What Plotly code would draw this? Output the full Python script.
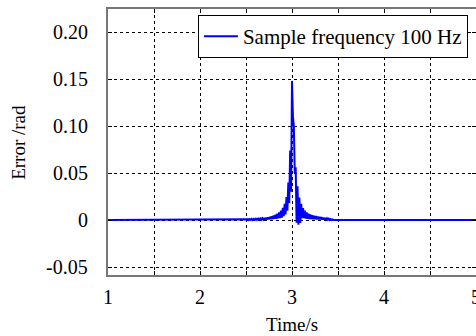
import plotly.graph_objects as go

# Time samples (s) around the error spike, sampled at 100 Hz; outside this window the error is 0
time_s = [1.00,
    2.50, 2.51, 2.52, 2.53, 2.54, 2.55, 2.56, 2.57, 2.58, 2.59,
    2.60, 2.61, 2.62, 2.63, 2.64, 2.65, 2.66, 2.67, 2.68, 2.69,
    2.70, 2.71, 2.72, 2.73, 2.74, 2.75, 2.76, 2.77, 2.78, 2.79,
    2.80, 2.81, 2.82, 2.83, 2.84, 2.85, 2.86, 2.87, 2.88, 2.89,
    2.90, 2.91, 2.92, 2.93, 2.94, 2.95, 2.96, 2.97, 2.98, 2.99,
    3.00, 3.01, 3.02, 3.03, 3.04, 3.05, 3.06, 3.07, 3.08, 3.09,
    3.10, 3.11, 3.12, 3.13, 3.14, 3.15, 3.16, 3.17, 3.18, 3.19,
    3.20, 3.21, 3.22, 3.23, 3.24, 3.25, 3.26, 3.27, 3.28, 3.29,
    3.30, 3.31, 3.32, 3.33, 3.34, 3.35, 3.36, 3.37, 3.38, 3.39,
    3.40, 3.41, 3.42, 3.43, 3.44, 3.45,
    5.00]

# Error (rad), oscillating sample to sample between the envelope and a lower value
error_rad = [0.0,
    0.0008, 0.0000, 0.0009, 0.0000, 0.0010, 0.0001, 0.0011, 0.0001, 0.0012, 0.0002,
    0.0013, 0.0002, 0.0014, 0.0003, 0.0015, 0.0003, 0.0017, 0.0004, 0.0019, 0.0004,
    0.0022, 0.0005, 0.0025, 0.0006, 0.0029, 0.0007, 0.0034, 0.0008, 0.0040, 0.0010,
    0.0047, 0.0012, 0.0056, 0.0014, 0.0067, 0.0017, 0.0081, 0.0021, 0.0101, 0.0026,
    0.0130, 0.0040, 0.0172, 0.0060, 0.0245, 0.0100, 0.0400, 0.0180, 0.0740, 0.0300,
    0.1480, 0.1100, 0.1000, 0.0500, 0.0560, -0.0030, 0.0360, -0.0050, 0.0240, -0.0030,
    0.0172, 0.0020, 0.0128, 0.0020, 0.0100, 0.0015, 0.0081, 0.0012, 0.0068, 0.0010,
    0.0058, 0.0009, 0.0051, 0.0008, 0.0046, 0.0008, 0.0042, 0.0007, 0.0038, 0.0006,
    0.0034, 0.0006, 0.0030, 0.0005, 0.0026, 0.0004, 0.0022, 0.0003, 0.0018, 0.0002,
    0.0014, 0.0001, 0.0010, 0.0000, 0.0006, 0.0000,
    0.0]

y_ticks = [-0.05, 0, 0.05, 0.10, 0.15, 0.20]
y_tick_text = ["-0.05", "0", "0.05", "0.10", "0.15", "0.20"]
x_ticks = [1, 2, 3, 4, 5]
x_tick_text = ["1", "2", "3", "4", "5"]

FONT = "Liberation Serif"

fig = go.Figure()
fig.add_trace(go.Scatter(
    x=time_s, y=error_rad, mode="lines",
    line=dict(color="#0000ff", width=2.0, simplify=False),
    name="Sample frequency 100 Hz",
))

grid = dict(showgrid=True, gridcolor="black", gridwidth=1, griddash="dot")

annotations = []
for v, t in zip(x_ticks, x_tick_text):
    annotations.append(dict(text=t, xref="x", yref="paper", x=v, y=-0.0827,
                            xanchor="center", yanchor="middle", showarrow=False,
                            font=dict(family=FONT, size=20, color="black")))
for v, t in zip(y_ticks, y_tick_text):
    annotations.append(dict(text=t, xref="paper", yref="y", x=-0.0489, y=v,
                            xanchor="right", yanchor="middle", showarrow=False,
                            font=dict(family=FONT, size=20, color="black")))
annotations.append(dict(text="Time/s", xref="paper", yref="paper", x=0.5, y=-0.185,
                        xanchor="center", yanchor="middle", showarrow=False,
                        font=dict(family=FONT, size=19, color="black")))
annotations.append(dict(text="Error /rad", xref="paper", yref="paper", x=-0.245, y=0.5,
                        xanchor="center", yanchor="middle", showarrow=False, textangle=-90,
                        font=dict(family=FONT, size=19, color="black")))

fig.update_layout(
    template="none",
    width=476, height=336,
    margin=dict(l=108, r=0, t=9, b=61, autoexpand=False),
    paper_bgcolor="white", plot_bgcolor="white",
    font=dict(family=FONT, size=20, color="black"),
    showlegend=True,
    legend=dict(
        x=0.978, xanchor="right", y=0.977, yanchor="top",
        bgcolor="white", bordercolor="black", borderwidth=1,
        font=dict(family=FONT, size=21, color="black"), itemwidth=34,
        entrywidth=224,
    ),
    xaxis=dict(
        range=[1, 5], tickvals=x_ticks, showticklabels=False,
        ticks="inside", ticklen=4, tickcolor="black",
        minor=dict(dtick=0.5, tick0=1, ticks="inside", ticklen=4, tickcolor="black",
                   showgrid=True, gridcolor="black", gridwidth=1, griddash="dot"),
        showline=True, linecolor="#777777", linewidth=1.5, mirror="ticks",
        zeroline=False, automargin=False,
        **grid,
    ),
    yaxis=dict(
        range=[-0.0585, 0.2245], tickvals=y_ticks, showticklabels=False,
        ticks="inside", ticklen=4, tickcolor="black",
        showline=True, linecolor="#777777", linewidth=1.5, mirror="ticks",
        zeroline=False, automargin=False,
        **grid,
    ),
    annotations=annotations,
)

fig.write_html("out.html")
